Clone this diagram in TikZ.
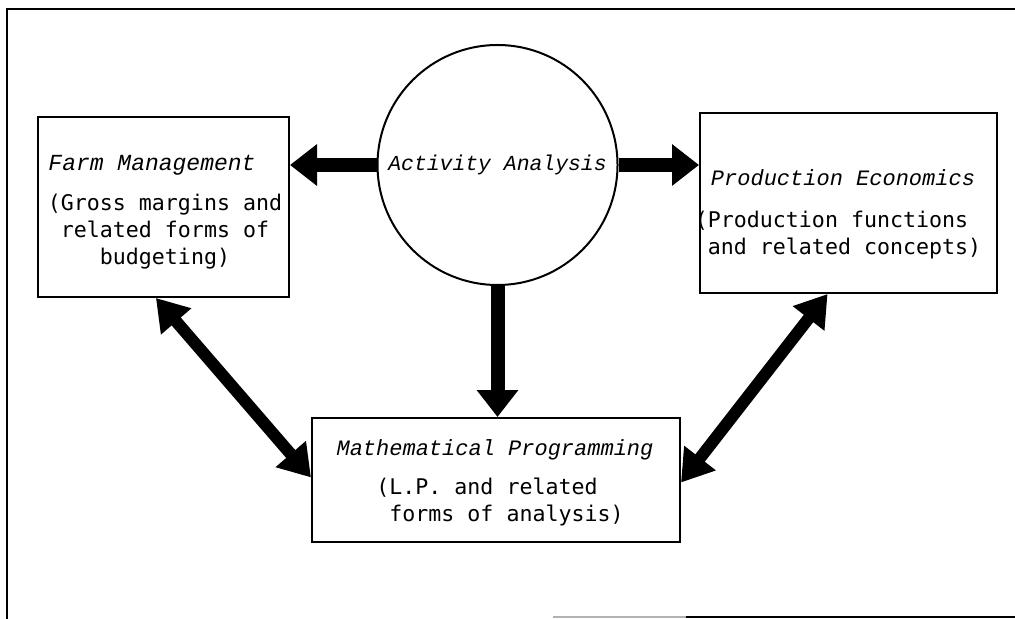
\documentclass[tikz,border=0pt]{standalone}
\usepackage{fontspec}
\usepackage{tikz}
\usetikzlibrary{arrows.meta}
\usetikzlibrary{positioning}
\usetikzlibrary{calc}
\newfontfamily\boxtitlefont{Liberation Mono}
\newfontfamily\boxtextfont{DejaVu Sans Mono}

\begin{document}
\begin{tikzpicture}[x=0.5pt,y=-0.5pt,
    box/.style={draw,line width=1pt,inner sep=0pt},
    heading/.style={font=\boxtitlefont\itshape\fontsize{11}{13}\selectfont,inner sep=0pt},
    body/.style={font=\boxtextfont\fontsize{10.8}{13.5}\selectfont,inner sep=0pt},
    fat/.style={line width=7pt,-{Triangle[length=13.5pt,width=20pt]}},
    both/.style={line width=6pt,{Triangle[length=15.5pt,width=19pt]}-{Triangle[length=15.5pt,width=19pt]}}]
    \useasboundingbox (0,0) rectangle (1015,619);
    \draw[line width=1.2pt] (1015,9) -- (7,9) -- (7,619);
    \draw[line width=1.2pt,gray!60] (553,617) -- (686,617);
    \draw[line width=1.2pt] (686,617) -- (1015,617);
    \node[draw,circle,line width=1pt,inner sep=0pt,minimum size=120pt,font=\boxtitlefont\itshape\fontsize{10.7}{13}\selectfont] (act) at (497.5,165) {Activity Analysis};
    \node[box,minimum width=125.5pt,minimum height=90pt] (farm) at (163.5,207) {};
    \node[box,minimum width=148.5pt,minimum height=90pt] (prod) at (848.5,203) {};
    \node[box,minimum width=184pt,minimum height=62pt] (math) at (496,480) {};
    \node[heading,font=\boxtitlefont\itshape\fontsize{11.5}{13}\selectfont] (farmhead) at (152,165) {Farm Management};
    \node[body,align=center] (farmbody) at (165,232) {(Gross margins and\\related forms of\\budgeting)};
    \node[heading] (prodhead) at (843,178) {Production Economics};
    \node[body,align=left] (prodbody) at (838,235) {(Production functions\\\hphantom{(}and related concepts)};
    \node[heading] (mathhead) at (495,450) {Mathematical Programming};
    \node[body,align=left] (mathbody) at (500,502) {(L.P. and related\\\hphantom{(}forms of analysis)};
    \draw[fat] (act.west) -- (act.west -| farm.east);
    \draw[fat] (act.east) -- (act.east -| prod.west);
    \draw[fat] (act.south) -- (act.south |- math.north);
    \draw[both] ($(farm.south west)!0.47!(farm.south east)$) -- ($(math.north west)!0.48!(math.south west)$);
    \draw[both] ($(prod.south west)!0.43!(prod.south east)$) -- ($(math.north east)!0.52!(math.south east)$);
\end{tikzpicture}
\end{document}
